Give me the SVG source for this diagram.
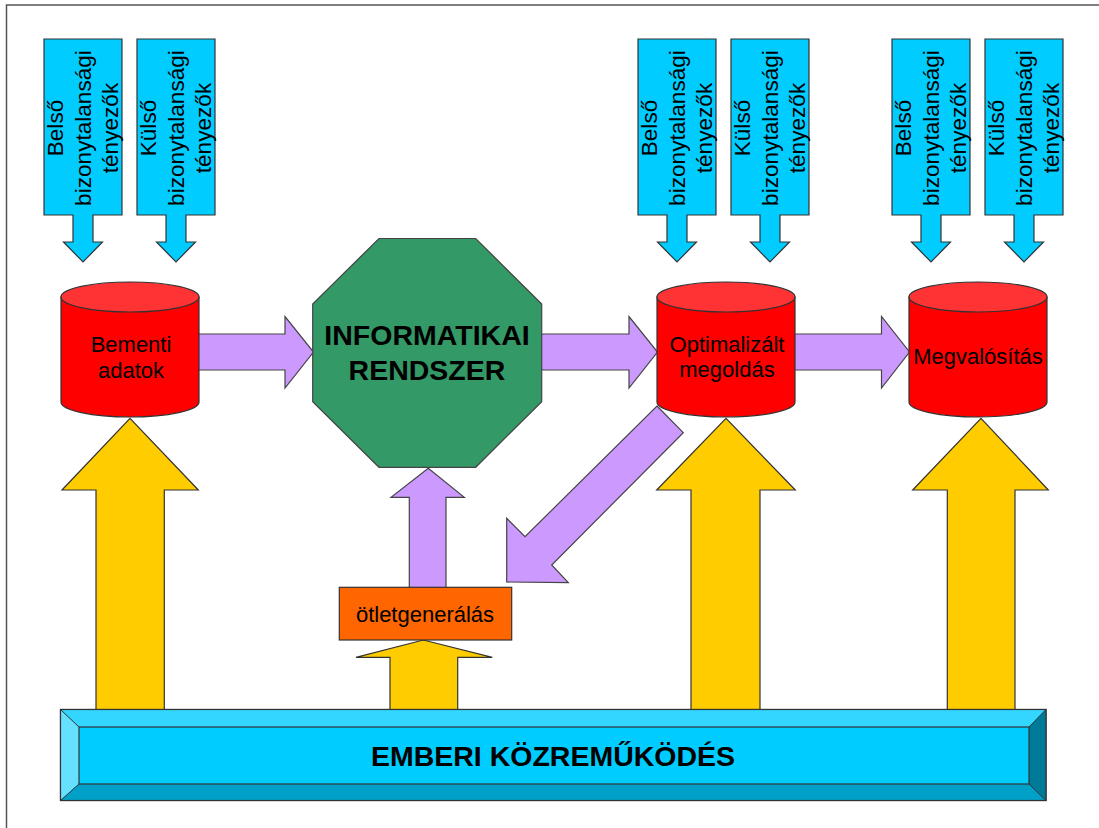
<svg xmlns="http://www.w3.org/2000/svg" width="1099" height="828" viewBox="0 0 1099 828">
<style>
text{font-family:"Liberation Sans",Arial,sans-serif;fill:#000}
.lbl{font-size:22px;text-anchor:middle}
.rot{font-size:22.6px;text-anchor:middle}
.big{font-size:28.5px;font-weight:bold;text-anchor:middle}
.blue{fill:#00CCFF;stroke:#333;stroke-width:1.2}
.pur{fill:#CC99FF;stroke:#444;stroke-width:1.2}
.yel{fill:#FFCC00;stroke:#333;stroke-width:1.2}
.cylb{fill:#FF0000;stroke:#333;stroke-width:1.2}
.cylt{fill:#FF3333;stroke:#333;stroke-width:1.2}
</style>
<defs>
<path id="barrow" d="M0,0 H78 V176 H49 V203 H58.5 L39,223 L19.5,203 H29 V176 H0 Z"/>
<path id="cyl" d="M0,0 V105 A69,15 0 0 0 138,105 V0 Z"/>
</defs>
<rect x="6.5" y="5" width="1100" height="830" fill="#fff" stroke="#555" stroke-width="1.5"/>

<g id="connectors">
<polygon class="pur" points="196,334 285,334 285,316.5 313.5,352 285,388 285,370 196,370"/>
<polygon class="pur" points="540,334 629,334 629,316.5 657.5,352 629,388 629,370 540,370"/>
<polygon class="pur" points="794,334 881.5,334 881.5,316.5 909.5,352 881.5,388 881.5,370 794,370"/>
<polygon class="pur" points="657,406 683.3,432.7 551.7,565 568.3,582.7 506.7,582 506.7,518.3 525,536.7"/>
<polygon class="pur" points="409.3,588 409.3,497.3 391,497.3 428.3,468.3 464.3,497.3 446,497.3 446,588"/>
<polygon class="yel" points="96,710 96,490 62,490 130,418.3 198.3,490 164.3,490 164.3,710"/>
<polygon class="yel" points="691,710 691,490 656.7,490 726,418.3 795.3,490 760,490 760,710"/>
<polygon class="yel" points="947.3,710 947.3,490 912.7,490 981,418.3 1048.3,490 1015,490 1015,710"/>
<polygon class="yel" points="390,710 390,657.3 356,657.3 423.3,640 492.3,657.3 457.7,657.3 457.7,710"/>
</g>

<g id="f1"><use href="#barrow" class="blue" x="44" y="39"/>
<g transform="translate(83,128) rotate(-90)"><text class="rot" y="-20">Belső</text><text class="rot" y="8">bizonytalansági</text><text class="rot" y="34.5">tényezők</text></g></g>
<g id="f2"><use href="#barrow" class="blue" x="137" y="39"/>
<g transform="translate(176,128) rotate(-90)"><text class="rot" y="-20">Külső</text><text class="rot" y="8">bizonytalansági</text><text class="rot" y="34.5">tényezők</text></g></g>
<g id="f3"><use href="#barrow" class="blue" x="638" y="39"/>
<g transform="translate(677,128) rotate(-90)"><text class="rot" y="-20">Belső</text><text class="rot" y="8">bizonytalansági</text><text class="rot" y="34.5">tényezők</text></g></g>
<g id="f4"><use href="#barrow" class="blue" x="731" y="39"/>
<g transform="translate(770,128) rotate(-90)"><text class="rot" y="-20">Külső</text><text class="rot" y="8">bizonytalansági</text><text class="rot" y="34.5">tényezők</text></g></g>
<g id="f5"><use href="#barrow" class="blue" x="892" y="39"/>
<g transform="translate(931,128) rotate(-90)"><text class="rot" y="-20">Belső</text><text class="rot" y="8">bizonytalansági</text><text class="rot" y="34.5">tényezők</text></g></g>
<g id="f6"><use href="#barrow" class="blue" x="985" y="39"/>
<g transform="translate(1024,128) rotate(-90)"><text class="rot" y="-20">Külső</text><text class="rot" y="8">bizonytalansági</text><text class="rot" y="34.5">tényezők</text></g></g>

<g id="bementi">
<use href="#cyl" class="cylb" x="61" y="297"/>
<ellipse class="cylt" cx="130" cy="297" rx="69" ry="15"/>
<text class="lbl" x="131" y="352">Bementi</text><text class="lbl" x="131" y="378">adatok</text>
</g>
<g id="informatikai">
<polygon points="379,238.5 475.7,238.5 541.7,304 541.7,401.7 475.7,467.3 379,467.3 312.7,401.7 312.7,304" fill="#339966" stroke="#444" stroke-width="1.2"/>
<text class="big" x="427" y="345">INFORMATIKAI</text><text class="big" x="427" y="380">RENDSZER</text>
</g>
<g id="optimalizalt">
<use href="#cyl" class="cylb" x="657" y="297"/>
<ellipse class="cylt" cx="726" cy="297" rx="69" ry="15"/>
<text class="lbl" x="727" y="352">Optimalizált</text><text class="lbl" x="727" y="377">megoldás</text>
</g>
<g id="megvalositas">
<use href="#cyl" class="cylb" x="909" y="297"/>
<ellipse class="cylt" cx="978" cy="297" rx="69" ry="15"/>
<text class="lbl" x="978" y="364">Megvalósítás</text>
</g>
<g id="otlet">
<rect x="339.3" y="587.3" width="172.4" height="52.7" fill="#FF6600" stroke="#333" stroke-width="1.2"/>
<text class="lbl" x="425" y="621.5">ötletgenerálás</text>
</g>
<g id="emberi">
<rect x="60.5" y="709.5" width="985.5" height="91" fill="#00CCFF" stroke="#333" stroke-width="1.2"/>
<polygon points="60.5,709.5 1046,709.5 1029,727 79,727" fill="#33D6FF"/>
<polygon points="60.5,709.5 79,727 79,784 60.5,800.5" fill="#66E0FF"/>
<polygon points="1046,709.5 1046,800.5 1029,784 1029,727" fill="#007A99"/>
<polygon points="60.5,800.5 79,784 1029,784 1046,800.5" fill="#00A0C8"/>
<path d="M60.5,709.5 L79,727 M1046,709.5 L1029,727 M60.5,800.5 L79,784 M1046,800.5 L1029,784" stroke="#333" stroke-width="1"/>
<rect x="79" y="727" width="950" height="57" fill="#00CCFF" stroke="#333" stroke-width="1.2"/>
<rect x="60.5" y="709.5" width="985.5" height="91" fill="none" stroke="#333" stroke-width="1.2"/>
<text class="big" x="553" y="766">EMBERI KÖZREMŰKÖDÉS</text>
</g>
</svg>
